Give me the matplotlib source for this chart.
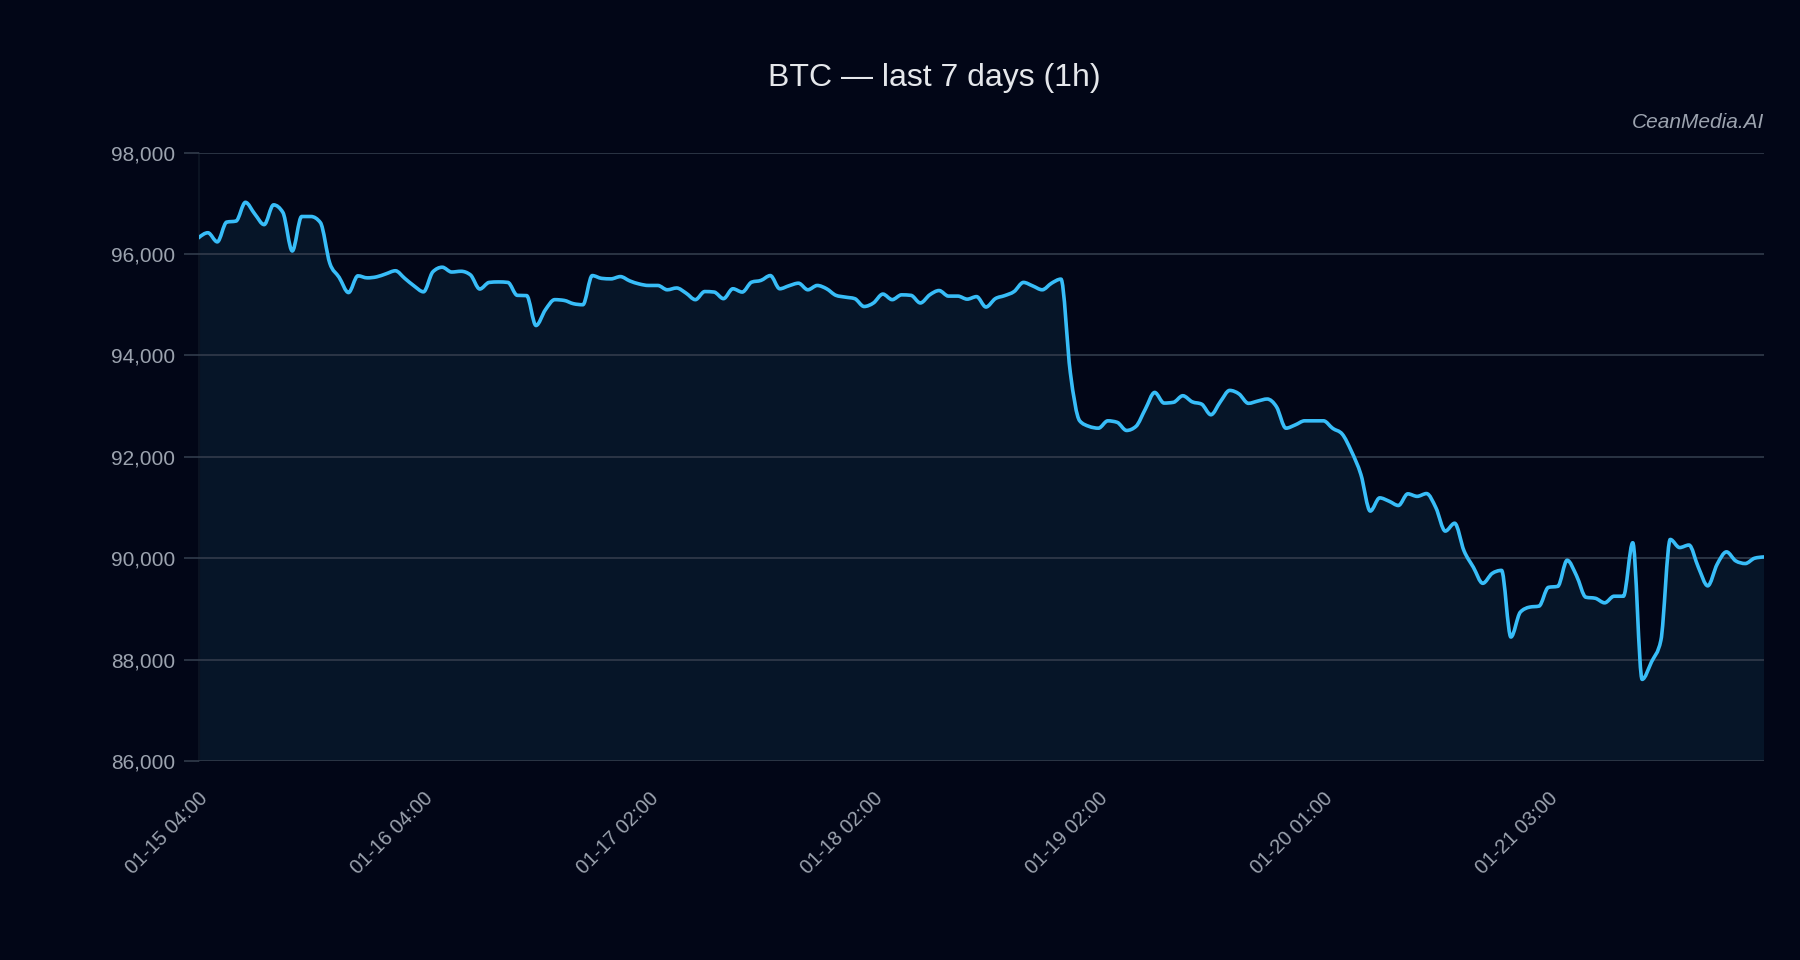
import matplotlib
matplotlib.use("Agg")
import matplotlib.pyplot as plt
from matplotlib.path import Path
from matplotlib.patches import PathPatch
from matplotlib.ticker import FuncFormatter
import numpy as np

# hourly BTC closes (168 points)
prices = [
    96320, 96420, 96240, 96630, 96650, 97020, 96790, 96580, 96970, 96820,
    96060, 96740, 96740, 96620, 95820, 95540, 95240, 95570, 95530, 95550,
    95610, 95670, 95520, 95370, 95255, 95650, 95740, 95645, 95660, 95590,
    95310, 95440, 95450, 95440, 95185, 95180, 94590, 94900, 95100, 95085,
    95020, 95000, 95575, 95520, 95510, 95555, 95470, 95410, 95380, 95380,
    95295, 95330, 95230, 95100, 95260, 95250, 95120, 95315, 95250, 95445,
    95480, 95575, 95315, 95375, 95425, 95295, 95380, 95315, 95185, 95150,
    95120, 94965, 95035, 95210, 95100, 95195, 95185, 95035, 95195, 95280,
    95170, 95170, 95110, 95160, 94955, 95120, 95180, 95260, 95440, 95370,
    95295, 95425, 95505, 93660, 92710, 92600, 92565, 92710, 92680, 92520,
    92600, 92940, 93270, 93060, 93075, 93205, 93085, 93040, 92830, 93085,
    93310, 93240, 93055, 93100, 93140, 92985, 92565, 92630, 92710, 92710,
    92710, 92560, 92450, 92105, 91650, 90930, 91190, 91125, 91040, 91270,
    91220, 91275, 90995, 90535, 90690, 90145, 89820, 89505, 89700, 89760,
    88445, 88935, 89035, 89055, 89425, 89445, 89960, 89655, 89230, 89210,
    89120, 89250, 89250, 90305, 87610, 87955, 88380, 90370, 90210, 90260,
    89820, 89455, 89880, 90125, 89945, 89895, 90000, 90025,
]
tick_pos = [0, 24, 48, 72, 96, 120, 144]
tick_labels = ["01-15 04:00", "01-16 04:00", "01-17 02:00", "01-18 02:00",
               "01-19 02:00", "01-20 01:00", "01-21 03:00"]
y_ticks = [86000, 88000, 90000, 92000, 94000, 96000, 98000]

BG = "#020617"
GRID = "#323b4b"
LINE = "#38bdf8"
TXT = "#9ca3af"


def monotone_verts(x, y):
    # monotone cubic (like d3 curveMonotoneX) as bezier control points
    x = np.asarray(x, float)
    y = np.asarray(y, float)
    h = np.diff(x)
    s = np.diff(y) / h
    m = np.zeros(len(x))
    for k in range(1, len(x) - 1):
        s0, s1 = s[k - 1], s[k]
        p = (s0 * h[k] + s1 * h[k - 1]) / (h[k - 1] + h[k])
        m[k] = (np.sign(s0) + np.sign(s1)) * min(abs(s0), abs(s1), 0.5 * abs(p))
    m[0] = (3 * s[0] - m[1]) / 2
    m[-1] = (3 * s[-1] - m[-2]) / 2
    verts = [(x[0], y[0])]
    codes = [Path.MOVETO]
    for k in range(len(x) - 1):
        d = h[k] / 3
        verts += [(x[k] + d, y[k] + m[k] * d),
                  (x[k + 1] - d, y[k + 1] - m[k + 1] * d),
                  (x[k + 1], y[k + 1])]
        codes += [Path.CURVE4] * 3
    return verts, codes


plt.rcParams['font.family'] = ['Liberation Sans', 'DejaVu Sans']

fig = plt.figure(figsize=(18, 9.6), dpi=100, facecolor=BG)
ax = fig.add_axes([0.1103, 0.2073, 0.8697, 0.6337])
ax.set_facecolor(BG)

idx = np.arange(len(prices))
verts, codes = monotone_verts(idx, prices)

# area under the curve
fill_verts = verts + [(idx[-1], 86000), (idx[0], 86000), (idx[0], prices[0])]
fill_codes = codes + [Path.LINETO, Path.LINETO, Path.CLOSEPOLY]
ax.add_patch(PathPatch(Path(fill_verts, fill_codes), facecolor="#061528",
                       edgecolor="none", zorder=1))
ax.add_patch(PathPatch(Path(verts, codes), facecolor="none", edgecolor=LINE,
                       lw=2.6, capstyle="round", joinstyle="round", zorder=3))

ax.set_xlim(0, len(prices) - 1)
ax.set_ylim(86000, 98000)
ax.set_yticks(y_ticks)
ax.yaxis.set_major_formatter(FuncFormatter(lambda v, p: f"{v:,.0f}"))
ax.grid(axis="y", color=GRID, lw=1.2, zorder=2)
ax.set_axisbelow(False)

ax.set_xticks(tick_pos)
ax.set_xticklabels(tick_labels, rotation=45, ha="right", rotation_mode="anchor")
ax.tick_params(axis="x", length=0, pad=20, labelsize=14.5, labelcolor=TXT)
ax.tick_params(axis="y", length=11, width=1.2, color=GRID, pad=6,
               labelsize=15, labelcolor=TXT)

for side in ["top", "right", "bottom"]:
    ax.spines[side].set_visible(False)
ax.spines["left"].set_color("#0b1322")
ax.spines["left"].set_linewidth(1.5)

fig.text(0.519, 0.9107, "BTC \u2014 last 7 days (1h)", ha="center",
         va="baseline", fontsize=23, color="#e5e7eb")
fig.text(0.98, 0.867, "CeanMedia.AI", ha="right", va="baseline",
         fontsize=15, style="italic", color=TXT)

fig.savefig("out.png", dpi=100, facecolor=BG)
